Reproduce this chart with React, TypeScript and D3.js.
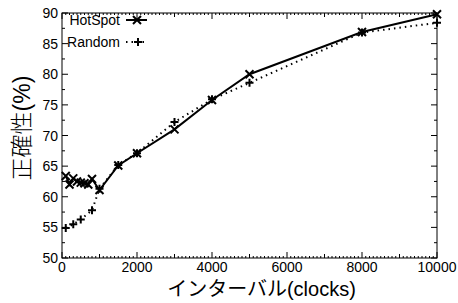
import React from 'react';
import * as d3 from 'd3';

const hotspotX = [100, 200, 300, 400, 500, 600, 700, 800, 1000, 1500, 2000, 3000, 4000, 5000, 8000, 10000];
const hotspotY = [63.4, 62.0, 63.0, 62.5, 62.3, 62.2, 62.0, 62.9, 61.1, 65.1, 67.1, 71.0, 75.8, 80.0, 86.9, 89.8];

const randomX = [100, 300, 500, 800, 1000, 1500, 2000, 3000, 4000, 5000, 8000, 10000];
const randomY = [54.9, 55.5, 56.3, 57.8, 61.3, 65.2, 67.1, 72.2, 75.9, 78.6, 86.8, 88.4];

const xTicks = [0, 2000, 4000, 6000, 8000, 10000];
const yTicks = [50, 55, 60, 65, 70, 75, 80, 85, 90];

const W = 458;
const H = 303;
const m = { left: 62, right: 21, top: 13, bottom: 45 };

const x = d3.scaleLinear().domain([0, 10000]).range([m.left, W - m.right]);
const y = d3.scaleLinear().domain([50, 90]).range([H - m.bottom, m.top]);

const line = d3.line<[number, number]>()
  .x(d => x(d[0]))
  .y(d => y(d[1]));

const hot = hotspotX.map((v, i) => [v, hotspotY[i]] as [number, number]);
const rnd = randomX.map((v, i) => [v, randomY[i]] as [number, number]);

const Cross = ({ cx, cy }: { cx: number; cy: number }) => (
  <path d={`M${cx - 4},${cy - 4}L${cx + 4},${cy + 4}M${cx - 4},${cy + 4}L${cx + 4},${cy - 4}`} stroke="#000" strokeWidth={2} />
);
const Plus = ({ cx, cy }: { cx: number; cy: number }) => (
  <path d={`M${cx - 4},${cy}L${cx + 4},${cy}M${cx},${cy - 4}L${cx},${cy + 4}`} stroke="#000" strokeWidth={2} />
);

const font = '"Liberation Sans", Arial, sans-serif';
const cjk = '"Liberation Sans", "Noto Sans CJK JP", sans-serif';

export default function App() {
  const x0 = m.left, x1 = W - m.right, y0 = H - m.bottom, y1 = m.top;
  const minorX = d3.range(0, 10001, 100);
  const minorY = d3.range(50, 90.01, 2.5);
  return (
    <svg width={W} height={H} style={{ position: 'absolute', left: 0, top: 0, background: '#fff' }}>
      {/* ticks */}
      {minorX.map(v => {
        const len = v % 2000 === 0 ? 6 : v % 1000 === 0 ? 4 : 2;
        return (
          <g key={'tx' + v} stroke="#000" strokeWidth={1}>
            <line x1={x(v)} x2={x(v)} y1={y0} y2={y0 - len} />
            <line x1={x(v)} x2={x(v)} y1={y1} y2={y1 + len} />
          </g>
        );
      })}
      {minorY.map(v => {
        const len = v % 5 === 0 ? 6 : 3;
        return (
          <g key={'ty' + v} stroke="#000" strokeWidth={1}>
            <line x1={x0} x2={x0 + len} y1={y(v)} y2={y(v)} />
            <line x1={x1} x2={x1 - len} y1={y(v)} y2={y(v)} />
          </g>
        );
      })}
      <rect x={x0} y={y1} width={x1 - x0} height={y0 - y1} fill="none" stroke="#000" strokeWidth={1} />
      {xTicks.map(v => (
        <text key={'lx' + v} x={x(v)} y={y0 + 14} textAnchor="middle" fontFamily={font} fontSize={14}>{v}</text>
      ))}
      {yTicks.map(v => (
        <text key={'ly' + v} x={x0 - 4} y={y(v) + 5} textAnchor="end" fontFamily={font} fontSize={14}>{v}</text>
      ))}
      <text x={(x0 + x1) / 2 + 12} y={H - 7} textAnchor="middle" fontFamily={cjk} fontSize={20}>インターバル(clocks)</text>
      <text transform={`translate(30,128) rotate(-90)`} textAnchor="middle" fontFamily={cjk} fontSize={23} fontWeight={300}>正確性(%)</text>
      {/* series */}
      <path d={line(rnd) ?? ''} fill="none" stroke="#000" strokeWidth={2} strokeDasharray="1.5,4" />
      <path d={line(hot) ?? ''} fill="none" stroke="#000" strokeWidth={2} />
      {rnd.map((d, i) => <Plus key={'r' + i} cx={x(d[0])} cy={y(d[1])} />)}
      {hot.map((d, i) => <Cross key={'h' + i} cx={x(d[0])} cy={y(d[1])} />)}
      {/* legend */}
      <text x={120} y={25} textAnchor="end" fontFamily={font} fontSize={14}>HotSpot</text>
      <line x1={126} x2={147} y1={20} y2={20} stroke="#000" strokeWidth={2} />
      <Cross cx={137} cy={20} />
      <text x={120} y={47} textAnchor="end" fontFamily={font} fontSize={14}>Random</text>
      <line x1={126} x2={147} y1={42} y2={42} stroke="#000" strokeWidth={2} strokeDasharray="1.5,4" />
      <Plus cx={138} cy={42} />
    </svg>
  );
}
